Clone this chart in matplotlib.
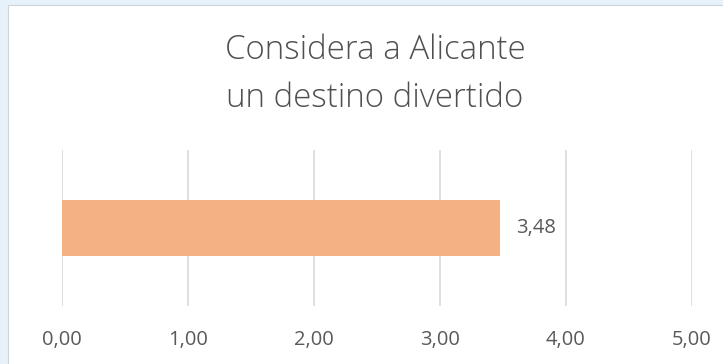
import matplotlib
matplotlib.use("Agg")
import matplotlib.pyplot as plt
from matplotlib.patches import Rectangle

categories = ["Considera a Alicante un destino divertido"]
values = [3.48]
value_labels = ["3,48"]
tick_values = [0, 1, 2, 3, 4, 5]
tick_labels = ["0,00", "1,00", "2,00", "3,00", "4,00", "5,00"]
title_lines = ["Considera a Alicante", "un destino divertido"]

W, H = 723, 364
fig = plt.figure(figsize=(W / 100, H / 100), dpi=100)
fig.patch.set_facecolor("#e6f1fa")

# white chart card behind everything
card = Rectangle((8 / W, -0.01), 1.0, 1.01 - 5 / H, transform=fig.transFigure,
                 facecolor="white", edgecolor="#d0d4d8", linewidth=0.8, zorder=-5)
fig.patches.append(card)

font = "Open Sans"
text_color = "#595959"

ax = fig.add_axes([62 / W, 1 - 306 / H, (692 - 62) / W, (306 - 150) / H])
ax.set_zorder(2)
ax.set_facecolor("none")
ax.barh([0], values, height=0.365, color="#f4b183", zorder=2)
ax.set_xlim(0, 5)
ax.set_ylim(-0.5, 0.5)
ax.set_yticks([])
ax.set_xticks(tick_values)
ax.set_xticklabels(tick_labels, fontfamily=font, fontsize=14.5, color=text_color)
ax.tick_params(axis="x", length=0, pad=17)
ax.grid(axis="x", color="#d9d9d9", linewidth=1.2, zorder=1)
for s in ax.spines.values():
    s.set_visible(False)

for v, lab in zip(values, value_labels):
    ax.text(v + 0.12, 0, lab, va="center", ha="left", fontfamily=font,
            fontsize=14.5, color=text_color)

for i, line in enumerate(title_lines):
    fig.text(375 / W, 1 - (50 + 48 * i) / H, line, ha="center", va="center",
             fontfamily=font, fontweight="light", fontsize=23.8, color="#505050")

fig.savefig("out.png", dpi=100, facecolor=fig.get_facecolor())
